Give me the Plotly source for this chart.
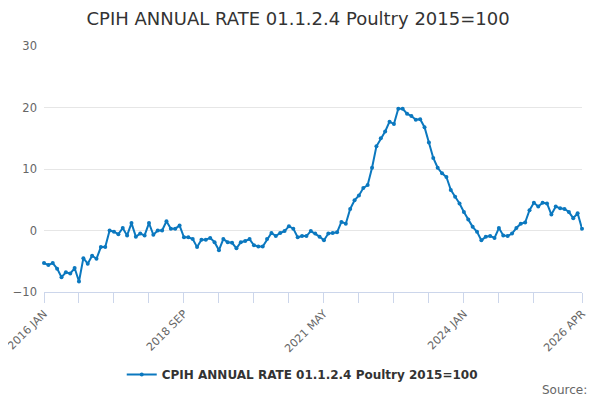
import plotly.graph_objects as go

# monthly annual rate, Jan 2016 .. Apr 2026
month_names = ['JAN', 'FEB', 'MAR', 'APR', 'MAY', 'JUN',
               'JUL', 'AUG', 'SEP', 'OCT', 'NOV', 'DEC']
months = []
for yr in range(2016, 2027):
    for m in month_names:
        months.append(str(yr) + ' ' + m)
months = months[:124]  # ends at 2026 APR

rate = [
    -5.3, -5.6, -5.3, -6.2, -7.6, -6.8, -7.0, -6.1, -8.3, -4.5, -5.4, -4.1,
    -4.6, -2.7, -2.7, 0.0, -0.2, -0.6, 0.4, -0.8, 1.2, -1.0, -0.5, -0.8,
    1.2, -0.7, 0.0, 0.0, 1.5, 0.3, 0.3, 0.8, -1.1, -1.1, -1.4, -2.7,
    -1.5, -1.5, -1.2, -1.9, -3.2, -1.4, -1.9, -2.0, -2.9, -1.9, -1.7, -1.4,
    -2.4, -2.6, -2.6, -1.4, -0.4, -0.9, -0.4, -0.1, 0.7, 0.3, -1.1, -0.9,
    -0.9, -0.1, -0.5, -1.0, -1.6, -0.5, -0.4, -0.3, 1.4, 1.1, 3.5, 4.9,
    5.7, 6.9, 7.4, 10.2, 13.7, 15.0, 16.1, 17.7, 17.3, 19.8, 19.8, 19.0,
    18.6, 18.0, 18.1, 16.8, 14.3, 11.8, 10.2, 9.3, 8.7, 6.6, 5.5, 4.4,
    3.0, 1.8, 0.6, -0.2, -1.6, -1.0, -0.9, -1.2, 0.4, -0.8, -0.9, -0.5,
    0.4, 1.1, 1.3, 3.3, 4.5, 3.9, 4.5, 4.4, 2.6, 3.9, 3.6, 3.5,
    3.0, 2.0, 2.8, 0.3,
]

series_name = 'CPIH ANNUAL RATE 01.1.2.4 Poultry 2015=100'
label_months = ['2016 JAN', '2018 SEP', '2021 MAY', '2024 JAN', '2026 APR']

# tick marks every 8 months plus the last month, labels only on a few
tick_vals = months[0:120:8] + [months[-1]]
tick_text = [t if t in label_months else '' for t in tick_vals]

line = go.Scatter(x=months, y=rate,
                  mode='lines+markers',
                  name='<b>' + series_name + '</b>',
                  line=dict(color='#0b78bf', width=2),
                  marker=dict(size=4, color='#0b78bf'),
                  cliponaxis=False)

# page body has an 8px margin, so the figure is a little smaller than the window
layout = go.Layout(
    width=592, height=392,
    title=dict(text=series_name, x=0.49, xanchor='center',
               y=0.974, yref='container', yanchor='middle',
               font=dict(family='DejaVu Sans', size=18, color='#333333')),
    font=dict(family='DejaVu Sans', color='#666666'),
    paper_bgcolor='white', plot_bgcolor='white',
    margin=dict(l=36, r=18, t=38, b=108, autoexpand=False),
    xaxis=dict(type='category', range=[0, len(months) - 1], automargin=False,
               tickmode='array', tickvals=tick_vals, ticktext=tick_text,
               tickangle=-45, tickfont=dict(size=11, color='#666666'),
               showline=True, linecolor='#ccd6eb', linewidth=1,
               ticks='outside', ticklen=10, tickcolor='#ccd6eb',
               showgrid=False, zeroline=False),
    yaxis=dict(range=[-10, 30], dtick=10, automargin=False,
               tickfont=dict(size=11.5, color='#666666'),
               gridcolor='#e6e6e6', zeroline=False, showline=False,
               ticks='', ticklabelstandoff=6),
    showlegend=True,
    legend=dict(orientation='h', x=0.48, xanchor='center', y=-0.335, yanchor='middle',
                font=dict(size=12, color='#333333'), itemwidth=30),
    annotations=[dict(text='Source:', xref='paper', yref='paper',
                      x=1.013, y=-0.398, xanchor='right', yanchor='middle',
                      showarrow=False, font=dict(size=12, color='#666666'))],
)

fig = go.Figure(data=[line], layout=layout)
fig.write_html('out.html')
